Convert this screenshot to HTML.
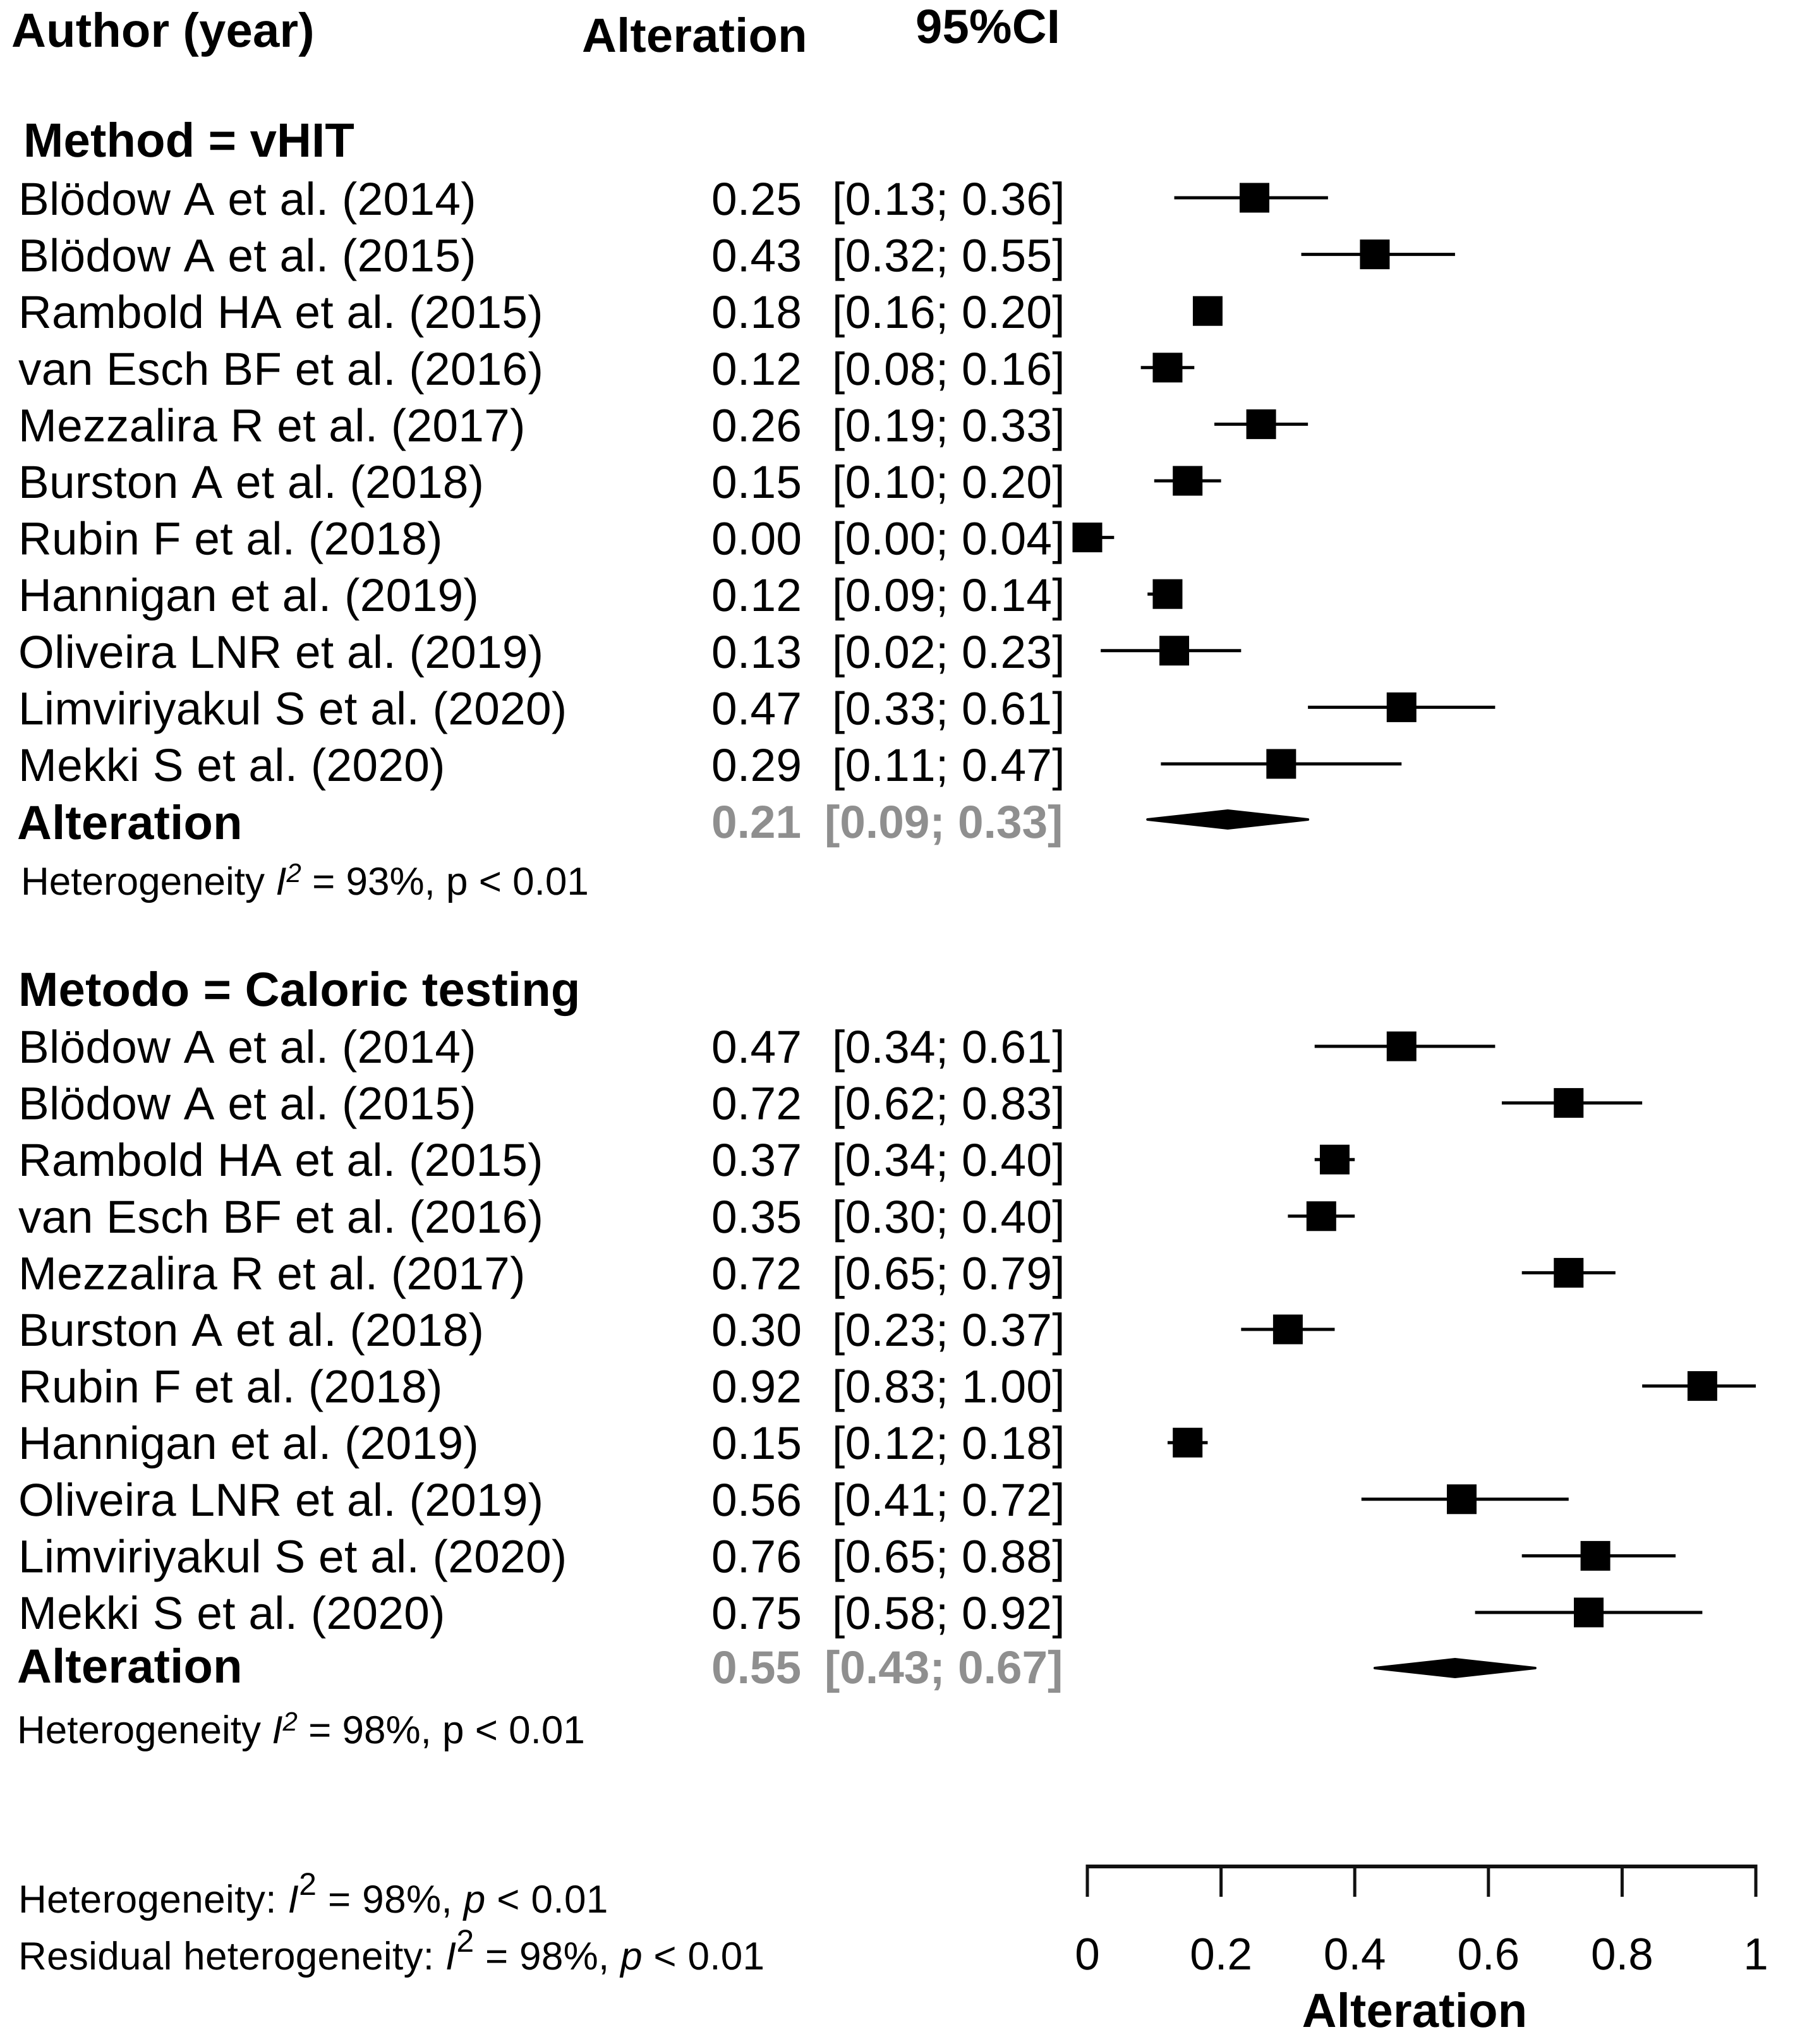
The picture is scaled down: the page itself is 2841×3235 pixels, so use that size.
<!DOCTYPE html>
<html lang="en">
<head>
<meta charset="utf-8">
<title>Forest plot of alteration by method</title>
<style>
html,body{margin:0;padding:0;background:#fff}
svg{display:block}
text{font-family:"Liberation Sans",Arial,sans-serif;fill:#000;text-rendering:geometricPrecision;font-kerning:none}
.hd{font-size:76px;font-weight:700;letter-spacing:.2px}
.row{font-size:73px;letter-spacing:.3px}
.pool{font-size:73px;font-weight:700;fill:#8f8f8f}
.het{font-size:62px}
.tick{font-size:71px;text-anchor:middle}
</style>
</head>
<body>
<svg id="chart" xmlns="http://www.w3.org/2000/svg" width="2841" height="3235" viewBox="0 0 2841 3235">
  <rect x="0" y="0" width="2841" height="3235" fill="#fff"/>
  <text class="hd" x="18" y="74">Author (year)</text>
  <text class="hd" x="921" y="82">Alteration</text>
  <text class="hd" x="1449" y="68">95%CI</text>
  <text class="hd" x="37" y="248">Method = vHIT</text>
  <text class="hd" x="29" y="1592">Metodo = Caloric testing</text>
  <text class="hd" x="27" y="1328">Alteration</text>
  <text class="hd" x="27" y="2663">Alteration</text>
  <text class="het" x="33" y="1416">Heterogeneity <tspan font-style="italic">I</tspan><tspan font-style="italic" font-size="42" dy="-20">2</tspan><tspan dy="20"> = 93%, p &lt; 0.01</tspan></text>
  <text class="het" x="27" y="2759">Heterogeneity <tspan font-style="italic">I</tspan><tspan font-style="italic" font-size="42" dy="-20">2</tspan><tspan dy="20"> = 98%, p &lt; 0.01</tspan></text>
  <text class="het" x="29" y="3027" letter-spacing="0.4">Heterogeneity: <tspan font-style="italic">I</tspan><tspan font-size="50" dy="-28">2</tspan><tspan dy="28"> = 98%, </tspan><tspan font-style="italic">p</tspan> &lt; 0.01</text>
  <text class="het" x="29" y="3117" letter-spacing="0.3">Residual heterogeneity: <tspan font-style="italic">I</tspan><tspan font-size="50" dy="-28">2</tspan><tspan dy="28"> = 98%, </tspan><tspan font-style="italic">p</tspan> &lt; 0.01</text>
  <text class="hd" x="2239" y="3208" text-anchor="middle">Alteration</text>
  <g id="marks"></g>
</svg>
<script>
const studies = ["Blödow A et al. (2014)","Blödow A et al. (2015)","Rambold HA et al. (2015)","van Esch BF et al. (2016)","Mezzalira R et al. (2017)","Burston A et al. (2018)","Rubin F et al. (2018)","Hannigan et al. (2019)","Oliveira LNR et al. (2019)","Limviriyakul S et al. (2020)","Mekki S et al. (2020)"];
const vhitEst = [0.25,0.43,0.18,0.12,0.26,0.15,0.00,0.12,0.13,0.47,0.29];
const vhitLo = [0.13,0.32,0.16,0.08,0.19,0.10,0.00,0.09,0.02,0.33,0.11];
const vhitHi = [0.36,0.55,0.20,0.16,0.33,0.20,0.04,0.14,0.23,0.61,0.47];
const caloricEst = [0.47,0.72,0.37,0.35,0.72,0.30,0.92,0.15,0.56,0.76,0.75];
const caloricLo = [0.34,0.62,0.34,0.30,0.65,0.23,0.83,0.12,0.41,0.65,0.58];
const caloricHi = [0.61,0.83,0.40,0.40,0.79,0.37,1.00,0.18,0.72,0.88,0.92];
const vhitPooled = [0.21,0.09,0.33];
const caloricPooled = [0.55,0.43,0.67];
const tickValues = [0,0.2,0.4,0.6,0.8,1];
const tickLabels = ["0","0.2","0.4","0.6","0.8","1"];

const NS = "http://www.w3.org/2000/svg";
const root = document.getElementById("marks");
const xScale = v => 1721 + v * 1058;
const ROW_STEP = 89.6;
const BOX = 47;

function svgEl(tag, attrs, text) {
  const el = document.createElementNS(NS, tag);
  for (const k in attrs) el.setAttribute(k, attrs[k]);
  if (text !== undefined) el.textContent = text;
  root.appendChild(el);
  return el;
}

function drawGroup(prefix, est, lo, hi, pooled, firstBaseline, markOffset, pooledBaseline, pooledY) {
  studies.forEach((name, i) => {
    const base = firstBaseline + i * ROW_STEP;
    const my = base + markOffset;

    const label = svgEl("text", {class: "row", x: 29, y: base}, name);
    
    

    const value = svgEl("text", {class: "row", x: 1126, y: base}, est[i].toFixed(2));
    
    

    const ci = svgEl("text", {class: "row", x: 1317, y: base}, "[" + lo[i].toFixed(2) + "; " + hi[i].toFixed(2) + "]");
    
    

    const line = svgEl("line", {x1: xScale(lo[i]), x2: xScale(hi[i]), y1: my, y2: my, stroke: "#000", "stroke-width": 5});
    
    

    const box = svgEl("rect", {x: xScale(est[i]) - BOX / 2, y: my - BOX / 2, width: BOX, height: BOX, fill: "#000"});
    
    
  });

  const pv = svgEl("text", {class: "pool", x: 1126, y: pooledBaseline}, pooled[0].toFixed(2));
  
  

  const pc = svgEl("text", {class: "pool", x: 1305, y: pooledBaseline}, "[" + pooled[1].toFixed(2) + "; " + pooled[2].toFixed(2) + "]");
  
  

  const pts = [
    [xScale(pooled[1]), pooledY],
    [xScale(pooled[0]), pooledY - 14],
    [xScale(pooled[2]), pooledY],
    [xScale(pooled[0]), pooledY + 14]
  ].map(p => p.join(",")).join(" ");
  const diamond = svgEl("polygon", {points: pts, fill: "#000", stroke: "#000", "stroke-width": 4, "stroke-linejoin": "round"});
  
  
}

drawGroup("vhit", vhitEst, vhitLo, vhitHi, vhitPooled, 340, -27, 1326, 1297);
drawGroup("caloric", caloricEst, caloricLo, caloricHi, caloricPooled, 1682, -26, 2664, 2640);

const axis = svgEl("line", {x1: xScale(0) - 2.5, x2: xScale(1) + 2.5, y1: 2954, y2: 2954, stroke: "#111", "stroke-width": 6});



tickValues.forEach((v, i) => {
  const t = svgEl("line", {x1: xScale(v), x2: xScale(v), y1: 2954, y2: 3002, stroke: "#111", "stroke-width": 5});
  
  

  const l = svgEl("text", {class: "tick", x: xScale(v), y: 3117}, tickLabels[i]);
  
  
});
</script>
</body>
</html>
